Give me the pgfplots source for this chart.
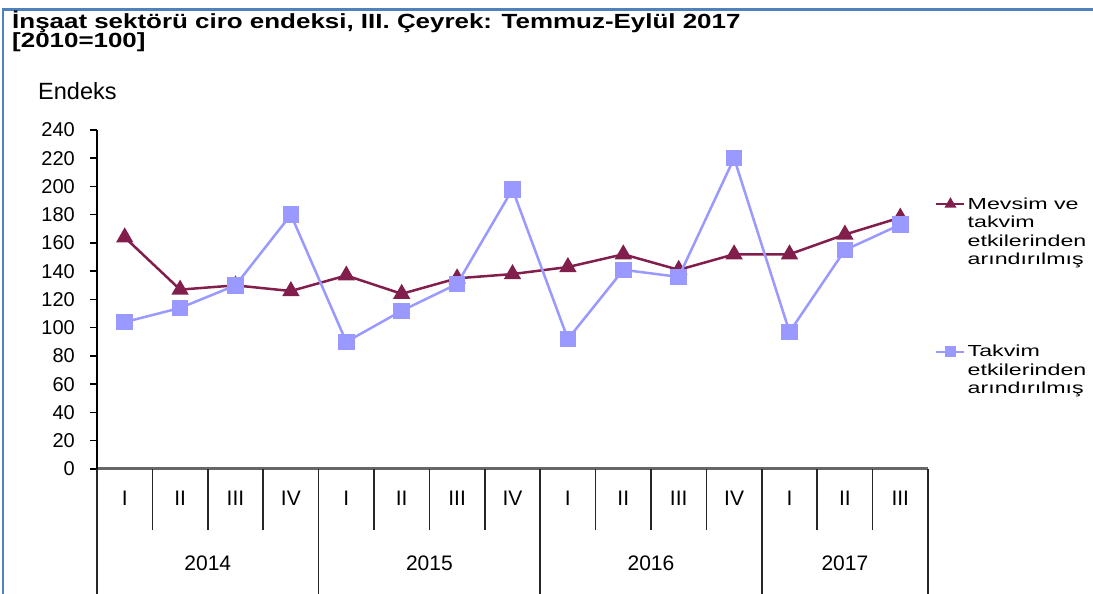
\documentclass[border=0pt]{standalone}
\usepackage{pgfplots}
\pgfplotsset{compat=1.18}
\usepackage{fontspec}
\setmainfont{Liberation Sans}
\newfontfamily\titlefont{Liberation Sans}[FakeStretch=1.265]
\newfontfamily\legfont{Liberation Sans}[FakeStretch=1.45]
\definecolor{mev}{RGB}{130,30,75}
\definecolor{tak}{RGB}{153,153,255}
\definecolor{framec}{RGB}{79,129,189}
\pgfplotsset{
  common/.style={
    at={(97pt,125pt)}, anchor=south west,
    scale only axis, width=831pt, height=339pt,
    xmin=0, xmax=15, ymin=0, ymax=240, clip=false,
    legend style={draw=none, fill=none, inner sep=0pt, outer sep=0pt,
      anchor=north west, column sep=0pt, cells={anchor=base west},
      font=\legfont\fontsize{16}{18.5}\selectfont},
    legend image code/.code={\draw[mark repeat=2,mark phase=2, mark options={scale=0.6}] plot coordinates {(0pt,5pt)(14pt,5pt)(28pt,5pt)};},
  }
}
\begin{document}
\begin{tikzpicture}
\path[use as bounding box] (0pt,0pt) rectangle (1093pt,594pt);
\draw[framec, line width=2.5pt] (3pt,0pt) -- (3pt,584.5pt) -- (1093pt,584.5pt);
\node[anchor=base west, inner sep=0pt] at (12pt,565pt) {\titlefont\bfseries\fontsize{20.5}{22}\selectfont İnşaat sektörü ciro endeksi, III. Çeyrek: Temmuz-Eylül 2017};
\node[anchor=base west, inner sep=0pt] at (12pt,546pt) {\titlefont\bfseries\fontsize{20.5}{22}\selectfont [2010=100]};
\node[anchor=base west, inner sep=0pt] at (38pt,494pt) {\fontsize{23.5}{27}\selectfont Endeks};
\begin{axis}[
  common,
  axis y line*=left, axis x line*=bottom,
  x axis line style={draw=gray!80!black, line width=3pt, -},
  y axis line style={black, line width=1.5pt, -},
  ytick={0,20,...,240},
  tick align=outside, major tick length=7pt,
  ytick style={black, line width=1.5pt},
  xtick={0.5,1.5,...,14.5},
  xticklabels={I,II,III,IV,I,II,III,IV,I,II,III,IV,I,II,III},
  x tick style={draw=none},
  xticklabel style={anchor=center, yshift=-22pt, font=\fontsize{21}{24}\selectfont},
  yticklabel style={anchor=east, inner sep=0pt, xshift=-15pt, font=\fontsize{20}{24}\selectfont},
  /pgf/number format/assume math mode=true,
  legend style={at={(axis cs:15.13,194.5)}},
]
\addplot[mev, line width=2.5pt, mark=triangle*, mark size=7.5pt, mark options={solid}]
coordinates {(0.5,164)(1.5,127)(2.5,130)(3.5,126)(4.5,137)(5.5,124)(6.5,135)(7.5,138)(8.5,143)(9.5,152)(10.5,141)(11.5,152)(12.5,152)(13.5,166)(14.5,178)};
\addlegendentry{\begin{tabular}[t]{@{}l@{}}Mevsim ve\\takvim\\etkilerinden\\arındırılmış\end{tabular}}
\pgfplotsinvokeforeach{1,2,3,5,6,7,9,10,11,13,14}{
  \draw[black!85, line width=1.5pt] (axis cs:#1,0) -- ++(0pt,-61pt);
}
\pgfplotsinvokeforeach{0,4,8,12,15}{
  \draw[black!85, line width=1.5pt] (axis cs:#1,0) -- ++(0pt,-125pt);
}
\node[font=\fontsize{21}{24}\selectfont] at ([yshift=-94pt]axis cs:2,0) {2014};
\node[font=\fontsize{21}{24}\selectfont] at ([yshift=-94pt]axis cs:6,0) {2015};
\node[font=\fontsize{21}{24}\selectfont] at ([yshift=-94pt]axis cs:10,0) {2016};
\node[font=\fontsize{21}{24}\selectfont] at ([yshift=-94pt]axis cs:13.5,0) {2017};
\end{axis}
\begin{axis}[
  common, hide axis,
  legend style={at={(axis cs:15.13,90)}},
]
\addplot[tak, line width=2.5pt, mark=square*, mark size=7pt, mark options={solid}]
coordinates {(0.5,104)(1.5,114)(2.5,130)(3.5,180)(4.5,90)(5.5,112)(6.5,131)(7.5,198)(8.5,92)(9.5,141)(10.5,136)(11.5,220)(12.5,97)(13.5,155)(14.5,173)};
\addlegendentry{\begin{tabular}[t]{@{}l@{}}Takvim\\etkilerinden\\arındırılmış\end{tabular}}
\end{axis}
\end{tikzpicture}
\end{document}
